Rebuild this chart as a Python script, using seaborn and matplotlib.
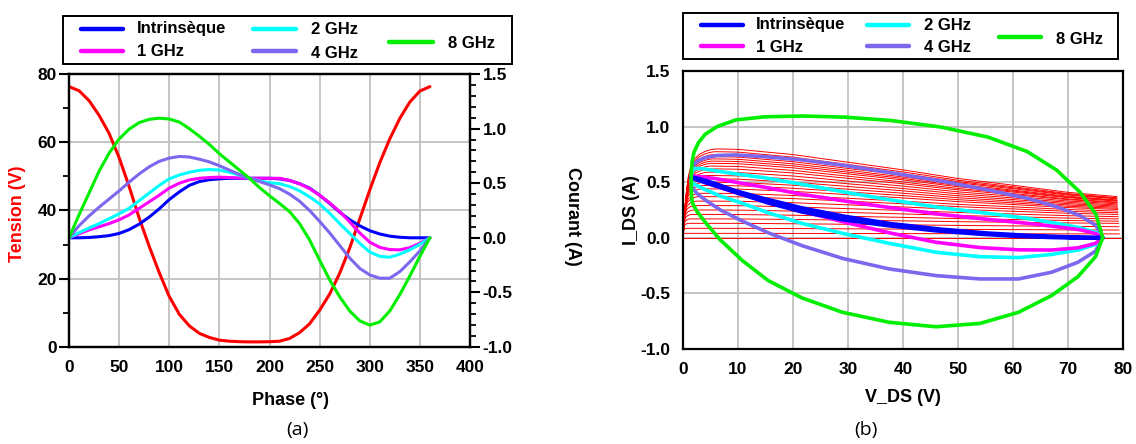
import numpy as np
import pandas as pd
import matplotlib
matplotlib.use("Agg")
import matplotlib.pyplot as plt
import seaborn as sns
from matplotlib.lines import Line2D
from matplotlib.patches import Rectangle
from matplotlib.ticker import MultipleLocator, FormatStrFormatter

# ---------------- data ----------------
phase = [0, 10, 20, 30, 40, 50, 60, 70, 80, 90, 100, 110, 120, 130, 140, 150, 160, 170, 180,
         190, 200, 210, 220, 230, 240, 250, 260, 270, 280, 290, 300, 310, 320, 330, 340, 350, 360]
tension = [76.3, 75.1, 72.2, 67.9, 62.6, 55.5, 47.0, 37.8, 29.5, 21.8, 14.8, 9.6, 6.2, 4.0,
           2.8, 2.0, 1.7, 1.55, 1.5, 1.5, 1.55, 1.7, 2.5, 4.2, 6.8, 10.8, 15.5, 21.6, 29.0,
           37.5, 46.0, 54.0, 61.0, 67.0, 71.8, 75.0, 76.3]
i_intrinseque = [0.0, 0.0, 0.003, 0.01, 0.02, 0.04, 0.075, 0.125, 0.19, 0.265, 0.35, 0.42,
                 0.48, 0.515, 0.532, 0.54, 0.545, 0.545, 0.545, 0.545, 0.545, 0.54, 0.525,
                 0.495, 0.455, 0.39, 0.315, 0.235, 0.165, 0.11, 0.065, 0.035, 0.015, 0.005,
                 0.0, 0.0, 0.0]
i_1ghz = [0.0, 0.037, 0.072, 0.10, 0.13, 0.165, 0.21, 0.27, 0.33, 0.39, 0.455, 0.50, 0.53,
          0.545, 0.552, 0.555, 0.552, 0.548, 0.545, 0.545, 0.545, 0.545, 0.525, 0.495, 0.45,
          0.39, 0.32, 0.24, 0.145, 0.045, -0.04, -0.088, -0.108, -0.11, -0.09, -0.05, 0.0]
i_2ghz = [0.0, 0.047, 0.09, 0.13, 0.175, 0.22, 0.27, 0.34, 0.41, 0.48, 0.54, 0.575, 0.60,
          0.618, 0.625, 0.62, 0.60, 0.575, 0.545, 0.52, 0.505, 0.495, 0.47, 0.43, 0.375,
          0.31, 0.225, 0.13, 0.04, -0.05, -0.13, -0.17, -0.178, -0.15, -0.11, -0.06, 0.0]
i_4ghz = [0.0, 0.11, 0.20, 0.28, 0.355, 0.43, 0.51, 0.585, 0.65, 0.70, 0.73, 0.745, 0.74,
          0.72, 0.695, 0.66, 0.62, 0.58, 0.545, 0.515, 0.485, 0.45, 0.40, 0.335, 0.25, 0.15,
          0.045, -0.07, -0.185, -0.28, -0.34, -0.37, -0.37, -0.31, -0.22, -0.12, 0.0]
i_8ghz = [0.0, 0.21, 0.41, 0.61, 0.775, 0.905, 0.995, 1.055, 1.085, 1.095, 1.088, 1.06, 1.0,
          0.93, 0.855, 0.77, 0.695, 0.62, 0.545, 0.46, 0.385, 0.315, 0.24, 0.13, -0.02,
          -0.205, -0.385, -0.54, -0.67, -0.76, -0.80, -0.77, -0.67, -0.52, -0.35, -0.17, 0.0]

series_labels = ["Intrinsèque", "1 GHz", "2 GHz", "4 GHz", "8 GHz"]
series_colors = ["#0000ff", "#ff00ff", "#00ffff", "#7b68ee", "#00ee00"]
series_values = [i_intrinseque, i_1ghz, i_2ghz, i_4ghz, i_8ghz]

# DC I-V network (red family): plateau current and current at the end of the sweep
iv_peak = [0.0, 0.04, 0.085, 0.13, 0.17, 0.21, 0.25, 0.29, 0.33, 0.37, 0.40, 0.44, 0.47,
           0.50, 0.53, 0.56, 0.59, 0.62, 0.645, 0.67, 0.69, 0.71, 0.73, 0.75, 0.775, 0.80]
iv_end = [0.0, 0.035, 0.07, 0.10, 0.13, 0.15, 0.17, 0.19, 0.21, 0.225, 0.24, 0.255, 0.265,
          0.275, 0.285, 0.295, 0.305, 0.315, 0.32, 0.33, 0.335, 0.34, 0.35, 0.355, 0.36, 0.37]
knee_v = [0, 0.5, 1, 1.5, 2, 3, 4, 5, 6, 8]
knee_frac = [0, 0.45, 0.70, 0.82, 0.88, 0.94, 0.97, 0.99, 1.0, 1.0]
droop_v = [0, 5, 10, 20, 30, 40, 50, 60, 70, 79]
droop_frac = [0, 0, 0.01, 0.12, 0.28, 0.44, 0.62, 0.76, 0.91, 1.0]

# ---------------- style ----------------
sns.set_theme(style="white")
plt.rcParams['font.family'] = ['Liberation Sans', 'DejaVu Sans']
plt.rcParams['axes.unicode_minus'] = False
plt.rcParams['font.weight'] = 'bold'
plt.rcParams['text.color'] = 'black'
plt.rcParams['xtick.color'] = 'black'
plt.rcParams['ytick.color'] = 'black'
plt.rcParams['axes.labelcolor'] = 'black'

W, H = 1136, 444
fig = plt.figure(figsize=(W / 100, H / 100), dpi=100)


def fx(x):
    return x / W


def fy(y):
    return 1 - y / H


ax1 = fig.add_axes([fx(69), fy(347), (470 - 69) / W, (347 - 74) / H])
ax1r = ax1.twinx()
ax2 = fig.add_axes([fx(683), fy(349), (1123 - 683) / W, (349 - 71) / H])

grid_kw = dict(color="#c0c0c0", lw=1.3)
tick_fs = 12.5


def style_axis(ax):
    for sp in ax.spines.values():
        sp.set_color("black")
        sp.set_linewidth(1.6)
    ax.tick_params(which="major", direction="out", length=7, width=1.5, colors="black",
                   labelsize=tick_fs, pad=2)
    ax.tick_params(which="minor", direction="out", length=4.5, width=1.3, colors="black")
    for lab in ax.get_xticklabels() + ax.get_yticklabels():
        lab.set_fontweight("bold")
        lab.set_color("black")


# ---------------- panel (a) ----------------
df_v = pd.DataFrame({"phase": phase, "V": tension})
sns.lineplot(data=df_v, x="phase", y="V", ax=ax1, color="#ff0000", lw=2.2,
             sort=False, estimator=None)
rows = []
for lab, vals in zip(series_labels, series_values):
    for p, v, i in zip(phase, tension, vals):
        rows.append({"phase": p, "V": v, "I": i, "serie": lab})
df_i = pd.DataFrame(rows)
sns.lineplot(data=df_i, x="phase", y="I", hue="serie", hue_order=series_labels,
             palette=series_colors, ax=ax1r, lw=2.2, sort=False, estimator=None,
             legend=False)

ax1.set_xlim(0, 400)
ax1.set_ylim(0, 80)
ax1r.set_ylim(-1.0, 1.5)
ax1.xaxis.set_major_locator(MultipleLocator(50))
ax1.xaxis.set_minor_locator(MultipleLocator(10))
ax1.yaxis.set_major_locator(MultipleLocator(20))
ax1.yaxis.set_minor_locator(MultipleLocator(10))
ax1r.yaxis.set_major_locator(MultipleLocator(0.5))
ax1r.yaxis.set_minor_locator(MultipleLocator(0.1))
ax1r.yaxis.set_major_formatter(FormatStrFormatter("%.1f"))
ax1.grid(True, which="major", **grid_kw)
ax1.set_axisbelow(True)
ax1.set_xlabel("")
ax1.set_ylabel("")
ax1r.set_ylabel("")
style_axis(ax1)
style_axis(ax1r)

# ---------------- panel (b) ----------------
fam_rows = []
for k, (ipk, iend) in enumerate(zip(iv_peak, iv_end)):
    vend = 80.0 if ipk == 0 else 79.4 - 1.4 * iend
    vv = np.concatenate([np.linspace(0, 8, 60), np.linspace(8, vend, 60)[1:]])
    scale = 0.8 / max(ipk, 0.02)
    knee = np.interp(vv * scale, knee_v, knee_frac)
    droop = np.interp(vv, droop_v, droop_frac)
    ii = ipk * knee - (ipk - iend) * droop
    for v, i in zip(vv, ii):
        fam_rows.append({"V": v, "I": i, "curve": k})
df_fam = pd.DataFrame(fam_rows)
sns.lineplot(data=df_fam, x="V", y="I", units="curve", estimator=None, sort=False,
             color="#ff0000", lw=0.7, ax=ax2, legend=False)

draw_order = [3, 2, 1, 0, 4]
for idx in draw_order:
    sub = df_i[df_i["serie"] == series_labels[idx]]
    sns.lineplot(data=sub, x="V", y="I", ax=ax2, color=series_colors[idx],
                 lw=3.0 if idx == 0 else 2.6, sort=False, estimator=None, legend=False)

ax2.set_xlim(0, 80)
ax2.set_ylim(-1.0, 1.5)
ax2.xaxis.set_major_locator(MultipleLocator(10))
ax2.xaxis.set_minor_locator(MultipleLocator(2))
ax2.yaxis.set_major_locator(MultipleLocator(0.5))
ax2.yaxis.set_minor_locator(MultipleLocator(0.1))
ax2.yaxis.set_major_formatter(FormatStrFormatter("%.1f"))
ax2.grid(True, which="major", **grid_kw)
ax2.set_axisbelow(True)
ax2.set_xlabel("")
ax2.set_ylabel("")
style_axis(ax2)

# ---------------- labels ----------------
lab_fs = 13
fig.text(fx(18), fy(214), "Tension (V)", rotation=90, color="#ff0000", fontsize=lab_fs,
         fontweight="bold", ha="center", va="center")
fig.text(fx(572), fy(216), "Courant (A)", rotation=-90, color="black", fontsize=lab_fs,
         fontweight="bold", ha="center", va="center")
fig.text(fx(290), fy(400), "Phase (°)", fontsize=lab_fs, fontweight="bold",
         ha="center", va="center")
fig.text(fx(632), fy(210), "I_DS (A)", rotation=90, fontsize=lab_fs, fontweight="bold",
         ha="center", va="center")
fig.text(fx(903), fy(397), "V_DS (V)", fontsize=lab_fs, fontweight="bold",
         ha="center", va="center")
fig.text(fx(297), fy(430), "(a)", fontsize=14, fontweight="normal",
         family=["Open Sans", "DejaVu Sans"], ha="center", va="center")
fig.text(fx(866), fy(430), "(b)", fontsize=14, fontweight="normal",
         family=["Open Sans", "DejaVu Sans"], ha="center", va="center")


# ---------------- legends (drawn by hand to match the layout) ----------------
def legend_box(box, entries):
    x0, y0, x1, y1 = box
    fig.add_artist(Rectangle((fx(x0), fy(y1)), fx(x1) - fx(x0), fy(y0) - fy(y1),
                             transform=fig.transFigure, fill=False, edgecolor="black",
                             lw=1.4))
    for color, lx0, lx1, ly, tx, ty, text in entries:
        fig.add_artist(Line2D([fx(lx0), fx(lx1)], [fy(ly), fy(ly)],
                              transform=fig.transFigure, color=color, lw=3.2))
        fig.text(fx(tx), fy(ty), text, fontsize=12, fontweight="bold",
                 ha="left", va="center")


legend_box((63, 16, 512, 64), [
    (series_colors[0], 81, 123, 29.5, 137, 28.5, series_labels[0]),
    (series_colors[1], 81, 123, 51, 137, 52, series_labels[1]),
    (series_colors[2], 253, 296, 29.5, 311, 30, series_labels[2]),
    (series_colors[3], 253, 296, 51, 311, 53, series_labels[3]),
    (series_colors[4], 389, 433, 42, 448, 43, series_labels[4]),
])
legend_box((683, 13, 1118, 59), [
    (series_colors[0], 701, 743, 25, 756, 24.5, series_labels[0]),
    (series_colors[1], 701, 743, 46.5, 756, 47, series_labels[1]),
    (series_colors[2], 867, 909, 25, 924, 26, series_labels[2]),
    (series_colors[3], 867, 909, 46.5, 924, 48, series_labels[3]),
    (series_colors[4], 999, 1041, 37.5, 1056, 39, series_labels[4]),
])

fig.savefig("out.png", dpi=100)
